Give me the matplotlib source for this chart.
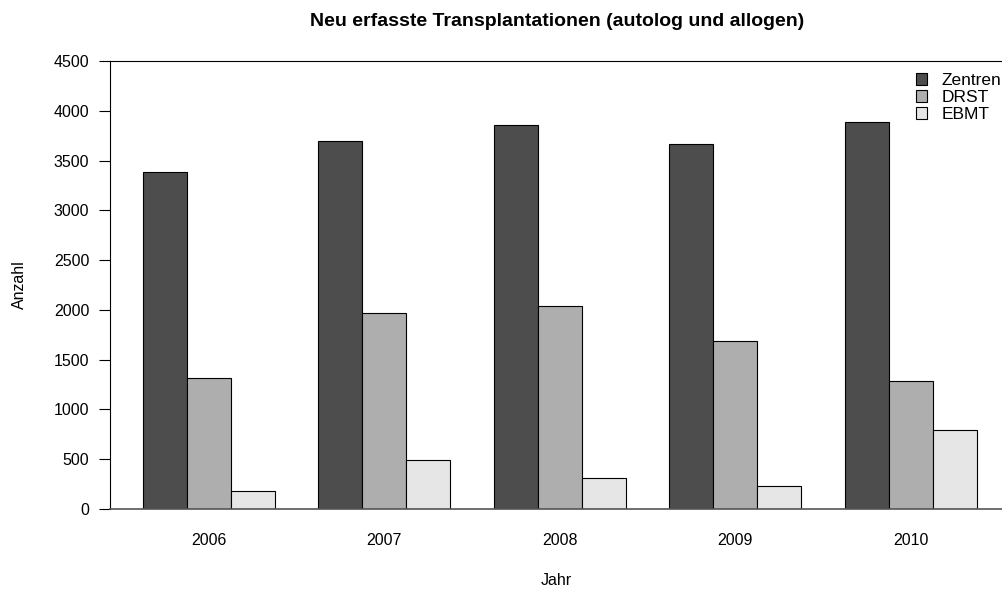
import matplotlib.pyplot as plt
import numpy as np

plt.rcParams['font.family'] = ['Liberation Sans', 'DejaVu Sans']

# Werte
jahre = ['2006', '2007', '2008', '2009', '2010']
serien = ['Zentren', 'DRST', 'EBMT']
zentren = [3385, 3695, 3855, 3665, 3885]
drst = [1320, 1965, 2035, 1685, 1290]
ebmt = [183, 490, 313, 233, 790]
farben = ['#4D4D4D', '#AEAEAE', '#E6E6E6']

W, H = 1003, 589
fig = plt.figure(figsize=(W / 100, H / 100), dpi=100)
ax = fig.add_axes([110 / W, 1 - 509 / H, 1 - 110 / W, (509 - 61) / H])

# wie R barplot(beside=TRUE): Balkenbreite 1, Luecke 1 zwischen Gruppen
gruppen_start = np.arange(len(jahre)) * 4 + 1
for i, (werte, farbe, name) in enumerate(zip([zentren, drst, ebmt], farben, serien)):
    ax.bar(gruppen_start + i, werte, width=1, align='edge', color=farbe,
           edgecolor='black', linewidth=0.8, label=name)

ax.set_xlim(0.25, 20.6)
ax.set_ylim(0, 4500)
ax.set_yticks(range(0, 4501, 500))
ax.set_xticks(gruppen_start + 1.5)
ax.set_xticklabels(jahre)
ax.tick_params(axis='x', length=0, pad=17, labelsize=11.5)
ax.tick_params(axis='y', length=8, width=0.8, pad=7, labelsize=11.5)

ax.spines['right'].set_visible(False)
for s in ['left', 'top']:
    ax.spines[s].set_linewidth(0.8)
ax.spines['bottom'].set_color('#555555')
ax.spines['bottom'].set_linewidth(1.2)

ax.set_ylabel('Anzahl', fontsize=11.5, labelpad=19)
ax.set_xlabel('Jahr', fontsize=11.5, labelpad=18)
fig.text(557 / W, 1 - 26 / H, 'Neu erfasste Transplantationen (autolog und allogen)',
         ha='center', va='baseline', fontsize=14, fontweight='bold')

fig.legend(loc='upper left', bbox_to_anchor=(916 / W, 1 - 73 / H),
           bbox_transform=fig.transFigure, frameon=False, fontsize=12.5,
           handlelength=0.65, handleheight=0.65, handletextpad=0.8,
           labelspacing=0.12, borderpad=0, borderaxespad=0)

fig.savefig('out.png', dpi=100)
